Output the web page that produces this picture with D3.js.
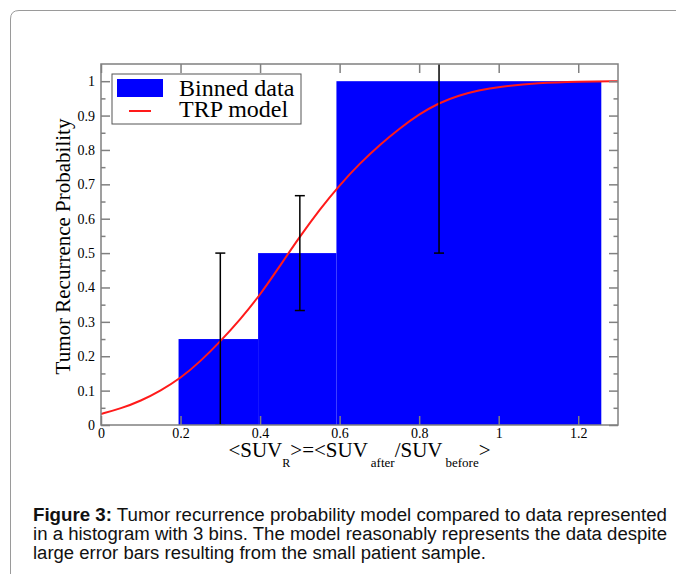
<!DOCTYPE html>
<html>
<head>
<meta charset="utf-8">
<script src="https://cdn.jsdelivr.net/npm/d3@7"></script>
<style>
  body { margin: 0; background: #fff; }
  svg { display: block; }
  .serif { font-family: "Liberation Serif", "Times New Roman", serif; fill: #000; }
  .caption { font-family: "Liberation Sans", Arial, sans-serif; font-size: 18px; fill: #111; }
</style>
</head>
<body>
<script>
// histogram bins
var binStart = [0.195, 0.395, 0.592];
var binEnd = [0.395, 0.592, 1.258];
var binValue = [0.25, 0.5, 1.0];

// error bars
var errX = [0.3, 0.5, 0.85];
var errLow = [0, 0.333, 0.5];
var errHigh = [0.5, 0.667, 1.5];

// TRP model curve
var modelX = [0, 0.05, 0.1, 0.15, 0.2, 0.25, 0.3, 0.35, 0.4, 0.45, 0.5, 0.55, 0.6, 0.65, 0.7, 0.75, 0.8, 0.85, 0.9, 0.95, 1.0, 1.1, 1.2, 1.3];
var modelY = [0.032, 0.048, 0.07, 0.10, 0.136, 0.185, 0.243, 0.307, 0.378, 0.463, 0.548, 0.627, 0.698, 0.76, 0.814, 0.862, 0.904, 0.937, 0.959, 0.974, 0.984, 0.995, 0.999, 1.0];

// ticks
var xTicks = [0, 0.2, 0.4, 0.6, 0.8, 1, 1.2];
var yTicks = [0, 0.1, 0.2, 0.3, 0.4, 0.5, 0.6, 0.7, 0.8, 0.9, 1];
var yMinor = [0.05, 0.15, 0.25, 0.35, 0.45, 0.55, 0.65, 0.75, 0.85, 0.95];

var legendLabels = ["Binned data", "TRP model"];
var captionLines = [
  "Tumor recurrence probability model compared to data represented",
  "in a histogram with 3 bins. The model reasonably represents the data despite",
  "large error bars resulting from the small patient sample."
];

var W = 676, H = 574;
var pL = 101, pR = 618, pT = 64, pB = 425;
var serifFont = '"Liberation Serif", "Times New Roman", serif';

var x = d3.scaleLinear().domain([0, 1.3]).range([pL, pR]);
var y = d3.scaleLinear().domain([0, 1.05]).range([pB, pT]);

var svg = d3.select('body').append('svg')
  .attr('width', W)
  .attr('height', H);

// card outline
svg.append('path')
  .attr('d', 'M10.5,' + H + ' L10.5,19 Q10.5,10.5 19,10.5 L' + W + ',10.5')
  .attr('fill', 'none')
  .attr('stroke', '#9a9a9a')
  .attr('stroke-width', 1);

svg.append('clipPath').attr('id', 'plotclip')
  .append('rect')
  .attr('x', pL).attr('y', pT)
  .attr('width', pR - pL).attr('height', pB - pT);

var bins = binStart.map(function(s, i){
  return {x0: s, x1: binEnd[i], v: binValue[i]};
});

// bars
svg.selectAll('.bar')
  .data(bins)
  .enter()
  .append('rect')
  .classed('bar', true)
  .attr('x', function(d){ return x(d.x0); })
  .attr('y', function(d){ return y(d.v); })
  .attr('width', function(d){ return x(d.x1) - x(d.x0); })
  .attr('height', function(d){ return y(0) - y(d.v); })
  .attr('fill', '#0000ff');

// model curve
var pts = modelX.map(function(v, i){ return [v, modelY[i]]; });
var line = d3.line()
  .x(function(d){ return x(d[0]); })
  .y(function(d){ return y(d[1]); })
  .curve(d3.curveBasis);

svg.append('path')
  .datum(pts)
  .attr('clip-path', 'url(#plotclip)')
  .attr('d', line)
  .attr('fill', 'none')
  .attr('stroke', '#ff1a1a')
  .attr('stroke-width', 2);

// error bars
var errs = errX.map(function(v, i){ return {x: v, lo: errLow[i], hi: errHigh[i]}; });
var eg = svg.append('g').attr('clip-path', 'url(#plotclip)')
  .attr('stroke', '#000').attr('stroke-width', 1.5);
errs.forEach(function(d){
  eg.append('line')
    .attr('x1', x(d.x)).attr('x2', x(d.x))
    .attr('y1', y(d.lo)).attr('y2', y(d.hi));
  [d.lo, d.hi].forEach(function(v){
    eg.append('line')
      .attr('x1', x(d.x) - 5).attr('x2', x(d.x) + 5)
      .attr('y1', y(v)).attr('y2', y(v));
  });
});

// axes (ticks pointing inwards on all four sides)
var fmt = d3.format('~g');
function styleAxis(g){
  g.attr('font-family', serifFont).attr('font-size', 14);
  g.select('.domain').remove();
  g.selectAll('.tick line').attr('stroke', '#808080').attr('stroke-width', 1.5);
  g.selectAll('.tick text')
    .attr('fill', '#000')
    .attr('font-family', serifFont)
    .attr('font-size', 14);
}
svg.append('g')
  .attr('transform', 'translate(0,' + pB + ')')
  .call(d3.axisBottom(x).tickValues(xTicks).tickFormat(fmt).tickSizeInner(-9).tickSizeOuter(0).tickPadding(3))
  .call(styleAxis);
svg.append('g')
  .attr('transform', 'translate(0,' + pT + ')')
  .call(d3.axisTop(x).tickValues(xTicks).tickFormat('').tickSizeInner(-9).tickSizeOuter(0))
  .call(styleAxis);
svg.append('g')
  .attr('transform', 'translate(' + pL + ',0)')
  .call(d3.axisLeft(y).tickValues(yTicks).tickFormat(fmt).tickSizeInner(-9).tickSizeOuter(0).tickPadding(6))
  .call(styleAxis);
svg.append('g')
  .attr('transform', 'translate(' + pL + ',0)')
  .call(d3.axisLeft(y).tickValues(yMinor).tickFormat('').tickSizeInner(-4.5).tickSizeOuter(0))
  .call(styleAxis);
svg.append('g')
  .attr('transform', 'translate(' + pR + ',0)')
  .call(d3.axisRight(y).tickValues(yTicks).tickFormat('').tickSizeInner(-9).tickSizeOuter(0))
  .call(styleAxis);
svg.append('g')
  .attr('transform', 'translate(' + pR + ',0)')
  .call(d3.axisRight(y).tickValues(yMinor).tickFormat('').tickSizeInner(-4.5).tickSizeOuter(0))
  .call(styleAxis);

// frame
svg.append('rect')
  .attr('x', pL).attr('y', pT)
  .attr('width', pR - pL).attr('height', pB - pT)
  .attr('fill', 'none')
  .attr('stroke', '#808080')
  .attr('stroke-width', 1.5);

// legend
var lg = svg.append('g');
lg.append('rect')
  .attr('x', 112).attr('y', 74).attr('width', 189).attr('height', 50)
  .attr('fill', '#fff').attr('stroke', '#555').attr('stroke-width', 1);
lg.append('rect')
  .attr('x', 117).attr('y', 79).attr('width', 46).attr('height', 18)
  .attr('fill', '#0000ff');
lg.append('line')
  .attr('x1', 129).attr('x2', 151).attr('y1', 111).attr('y2', 111)
  .attr('stroke', '#ff1a1a').attr('stroke-width', 2);
lg.selectAll('.lgtext')
  .data(legendLabels)
  .enter()
  .append('text')
  .classed('serif', true)
  .attr('x', 179)
  .attr('y', function(d, i){ return 96 + i * 21; })
  .style('font-size', '24px')
  .text(function(d){ return d; });

// y axis title
svg.append('text')
  .classed('serif', true)
  .attr('transform', 'translate(70,' + ((pT + pB) / 2 + 2) + ') rotate(-90)')
  .attr('text-anchor', 'middle')
  .style('font-size', '21px')
  .text('Tumor Recurrence Probability');

// x axis title with subscripts
var xt = svg.append('text')
  .classed('serif', true)
  .attr('x', (pL + pR) / 2)
  .attr('y', 457)
  .attr('text-anchor', 'middle')
  .style('font-size', '21px');
xt.append('tspan').text('<SUV');
xt.append('tspan').attr('dy', 10).style('font-size', '12px').text('R');
xt.append('tspan').attr('dy', -10).text('>=<SUV');
xt.append('tspan').attr('dx', 3).attr('dy', 10).style('font-size', '13px').text('after');
xt.append('tspan').attr('dy', -10).text('/SUV');
xt.append('tspan').attr('dx', 3).attr('dy', 10).style('font-size', '13px').text('before');
xt.append('tspan').attr('dy', -10).text('>');

// caption
var cap = svg.append('g').classed('caption', true);
var c1 = cap.append('text').attr('x', 33).attr('y', 521)
  .attr('textLength', 634).attr('lengthAdjust', 'spacingAndGlyphs');
c1.append('tspan').style('font-weight', 'bold').text('Figure 3:');
c1.append('tspan').text(' ' + captionLines[0]);
cap.append('text').attr('x', 33).attr('y', 540)
  .attr('textLength', 634).attr('lengthAdjust', 'spacingAndGlyphs')
  .text(captionLines[1]);
cap.append('text').attr('x', 33).attr('y', 559)
  .attr('textLength', 453).attr('lengthAdjust', 'spacingAndGlyphs')
  .text(captionLines[2]);
</script>
</body>
</html>
